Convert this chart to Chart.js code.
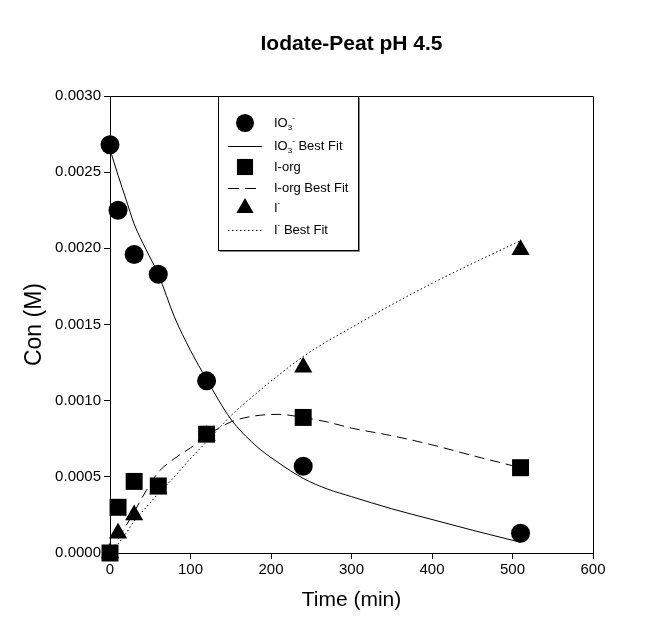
<!DOCTYPE html>
<html>
<head>
<meta charset="utf-8">
<script src="https://cdn.jsdelivr.net/npm/chart.js@4.4.1/dist/chart.umd.min.js"></script>
<style>
html, body { margin: 0; padding: 0; background: #fff; }
#wrap { width: 666px; height: 622px; }
</style>
</head>
<body>
<div id="wrap"><canvas id="scatter-chart" width="666" height="622"></canvas></div>
<script>
// measured points
var timePoints = [0, 10, 30, 60, 120, 240, 510];
var iodateValues = [0.00268, 0.00225, 0.00196, 0.00183, 0.00113, 0.00057, 0.00013];
var iorgValues = [0.00000, 0.00030, 0.00047, 0.00044, 0.00078, 0.00089, 0.00056];
var iodideValues = [0.00000, 0.00013, 0.00025, 0.00042, 0.00077, 0.00122, 0.00199];

// best fit curves
var fitTimes = [0, 10, 20, 30, 45, 60, 80, 100, 120, 150, 180, 210, 240, 270, 300, 350, 400, 450, 510];
var iodateFit = [0.00265, 0.00248, 0.00232, 0.00216, 0.00199, 0.00183, 0.00155, 0.00133, 0.00114, 0.00088, 0.00071, 0.00059, 0.00049, 0.00042, 0.00037, 0.00029, 0.00022, 0.00015, 0.00007];
var iorgFit = [0.00000, 0.00009, 0.00018, 0.00027, 0.00041, 0.00053, 0.00062, 0.00069, 0.00077, 0.00086, 0.00090, 0.00091, 0.00089, 0.00086, 0.00082, 0.00077, 0.00071, 0.00064, 0.00056];
var iodideFit = [0.00000, 0.00006, 0.00013, 0.00021, 0.00030, 0.00039, 0.00050, 0.00062, 0.00073, 0.00090, 0.00104, 0.00117, 0.00129, 0.00139, 0.00148, 0.00163, 0.00177, 0.00190, 0.00205];

var xRange = [0, 600];
var yRange = [0, 0.003];

// legend entries: text parts, "b" = baseline, "sub", "sup"
var legendLabels = [
    [['IO', 'b'], ['3', 'sub'], ['-', 'sup']],
    [['IO', 'b'], ['3', 'sub'], ['-', 'sup'], [' Best Fit', 'b']],
    [['I-org', 'b']],
    [['I-org Best Fit', 'b']],
    [['I', 'b'], ['-', 'sup']],
    [['I', 'b'], ['-', 'sup'], [' Best Fit', 'b']]
];

function toPoints(xs, ys) {
    return xs.map(function (x, i) { return {x: x, y: ys[i]}; });
}

function markerSet(values, style, radius) {
    return {
        data: toPoints(timePoints, values),
        showLine: false,
        clip: false,
        pointStyle: style,
        pointRadius: radius,
        pointHoverRadius: radius,
        backgroundColor: '#000',
        borderColor: '#000',
        borderWidth: 0
    };
}

function fitSet(values, dash) {
    return {
        data: toPoints(fitTimes, values),
        showLine: true,
        pointRadius: 0,
        borderColor: '#000',
        borderWidth: 1,
        borderDash: dash,
        cubicInterpolationMode: 'monotone',
        fill: false
    };
}

var frameAndLegend = {
    id: 'frameAndLegend',
    afterDraw: function (chart) {
        var ctx = chart.ctx;
        var a = chart.chartArea;
        ctx.save();
        ctx.strokeStyle = '#000';
        ctx.lineWidth = 1;
        ctx.beginPath();
        ctx.moveTo(a.left, a.top + 0.5);
        ctx.lineTo(a.right + 0.5, a.top + 0.5);
        ctx.lineTo(a.right + 0.5, a.bottom);
        ctx.stroke();

        // legend box
        var bx = 218.5, by = 96.5, bw = 140, bh = 154;
        ctx.fillStyle = '#fff';
        ctx.fillRect(bx, by, bw, bh);
        ctx.strokeStyle = '#888';
        ctx.beginPath();
        ctx.moveTo(bx + 1, by + bh + 1);
        ctx.lineTo(bx + bw + 1, by + bh + 1);
        ctx.lineTo(bx + bw + 1, by + 1);
        ctx.stroke();
        ctx.strokeStyle = '#000';
        ctx.strokeRect(bx, by, bw, bh);

        var sets = chart.data.datasets;
        var rowY = [123, 146, 167, 188, 208, 230];
        var symX = 245, textX = 274;
        for (var i = 0; i < sets.length; i++) {
            var ds = sets[i];
            var y = rowY[i];
            if (ds.showLine) {
                ctx.save();
                ctx.strokeStyle = '#000';
                ctx.lineWidth = 1;
                ctx.setLineDash(ds.borderDash && ds.borderDash[0] > 5 ? [11, 6] : (ds.borderDash || []));
                ctx.beginPath();
                ctx.moveTo(symX - 17, y + 0.5);
                ctx.lineTo(symX + 17, y + 0.5);
                ctx.stroke();
                ctx.restore();
            } else {
                ctx.fillStyle = '#000';
                ctx.strokeStyle = '#000';
                Chart.helpers.drawPoint(ctx, {
                    pointStyle: ds.pointStyle,
                    radius: ds.pointRadius * 0.95,
                    rotation: 0,
                    borderWidth: 0
                }, symX, y);
            }
            var x = textX;
            ctx.fillStyle = '#000';
            ctx.textBaseline = 'middle';
            legendLabels[i].forEach(function (part) {
                var size = part[1] === 'b' ? 13 : 8;
                var dy = part[1] === 'sub' ? 5 : (part[1] === 'sup' ? -5 : 0);
                ctx.font = size + "px 'Liberation Sans', Arial, sans-serif";
                ctx.fillText(part[0], x, y + dy);
                x += ctx.measureText(part[0]).width;
            });
        }
        ctx.restore();
    }
};

var handleChart = function () {
    Chart.defaults.font.family = "'Liberation Sans', Arial, sans-serif";
    Chart.defaults.color = '#000';
    var ctx = document.getElementById('scatter-chart').getContext('2d');
    window.myChart = new Chart(ctx, {
        type: 'scatter',
        data: {
            datasets: [
                markerSet(iodateValues, 'circle', 9.5),
                fitSet(iodateFit, []),
                markerSet(iorgValues, 'rect', 12),
                fitSet(iorgFit, [10, 6]),
                markerSet(iodideValues, 'triangle', 10.5),
                fitSet(iodideFit, [1.5, 2.5])
            ]
        },
        options: {
            responsive: false,
            devicePixelRatio: 1,
            animation: false,
            layout: {padding: {left: 0, right: 73, top: 0, bottom: 0}},
            plugins: {
                legend: {display: false},
                tooltip: {enabled: false},
                title: {
                    display: true,
                    fullSize: false,
                    text: 'Iodate-Peat pH 4.5',
                    font: {size: 21, weight: 'bold'},
                    padding: {top: 32, bottom: 38.8}
                }
            },
            scales: {
                x: {
                    type: 'linear',
                    min: xRange[0],
                    max: xRange[1],
                    afterFit: function (s) { s.height = 69; },
                    grid: {display: true, drawOnChartArea: false, drawTicks: true, tickLength: 6, color: '#000'},
                    border: {display: true, color: '#000', width: 1},
                    ticks: {stepSize: 100, padding: 2, font: {size: 15}},
                    title: {display: true, text: 'Time (min)', font: {size: 21}, padding: {bottom: 9}}
                },
                y: {
                    min: yRange[0],
                    max: yRange[1],
                    afterFit: function (s) { s.width = 110; },
                    grid: {display: true, drawOnChartArea: false, drawTicks: true, tickLength: 6, color: '#000'},
                    border: {display: true, color: '#000', width: 1},
                    ticks: {
                        stepSize: 0.0005,
                        padding: 3,
                        font: {size: 15},
                        callback: function (v) { return Number(v).toFixed(4); }
                    },
                    title: {display: true, text: 'Con (M)', font: {size: 23}, padding: {top: 21}}
                }
            }
        },
        plugins: [frameAndLegend]
    });
};

handleChart();
</script>
</body>
</html>
